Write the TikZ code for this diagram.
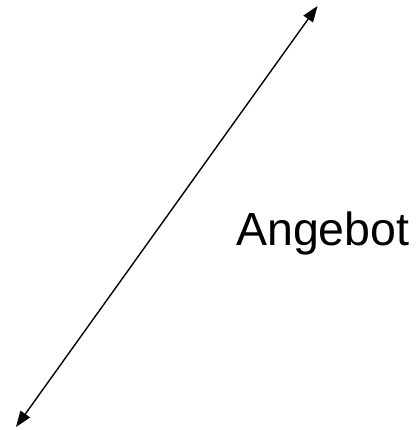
\documentclass[tikz,border=0pt]{standalone}
\usepackage{fontspec}
\setmainfont{Liberation Sans}
\usetikzlibrary{arrows.meta}
\tikzset{
  conn/.style={line width=1.4pt, {Triangle[length=16pt,width=11.5pt]}-{Triangle[length=16pt,width=11.5pt]}},
  lbl/.style={inner sep=0pt, anchor=base west, font=\fontsize{46.5pt}{50pt}\selectfont}
}
\begin{document}
\begin{tikzpicture}[x=1pt,y=-1pt]
\useasboundingbox (0,0) rectangle (419,430);
\coordinate (top) at (317.5,6);
\coordinate (bot) at (16,427);
\draw[conn] (bot) -- (top);
\node[lbl] (angebot) at (236,245) {Angebot};
\end{tikzpicture}
\end{document}
